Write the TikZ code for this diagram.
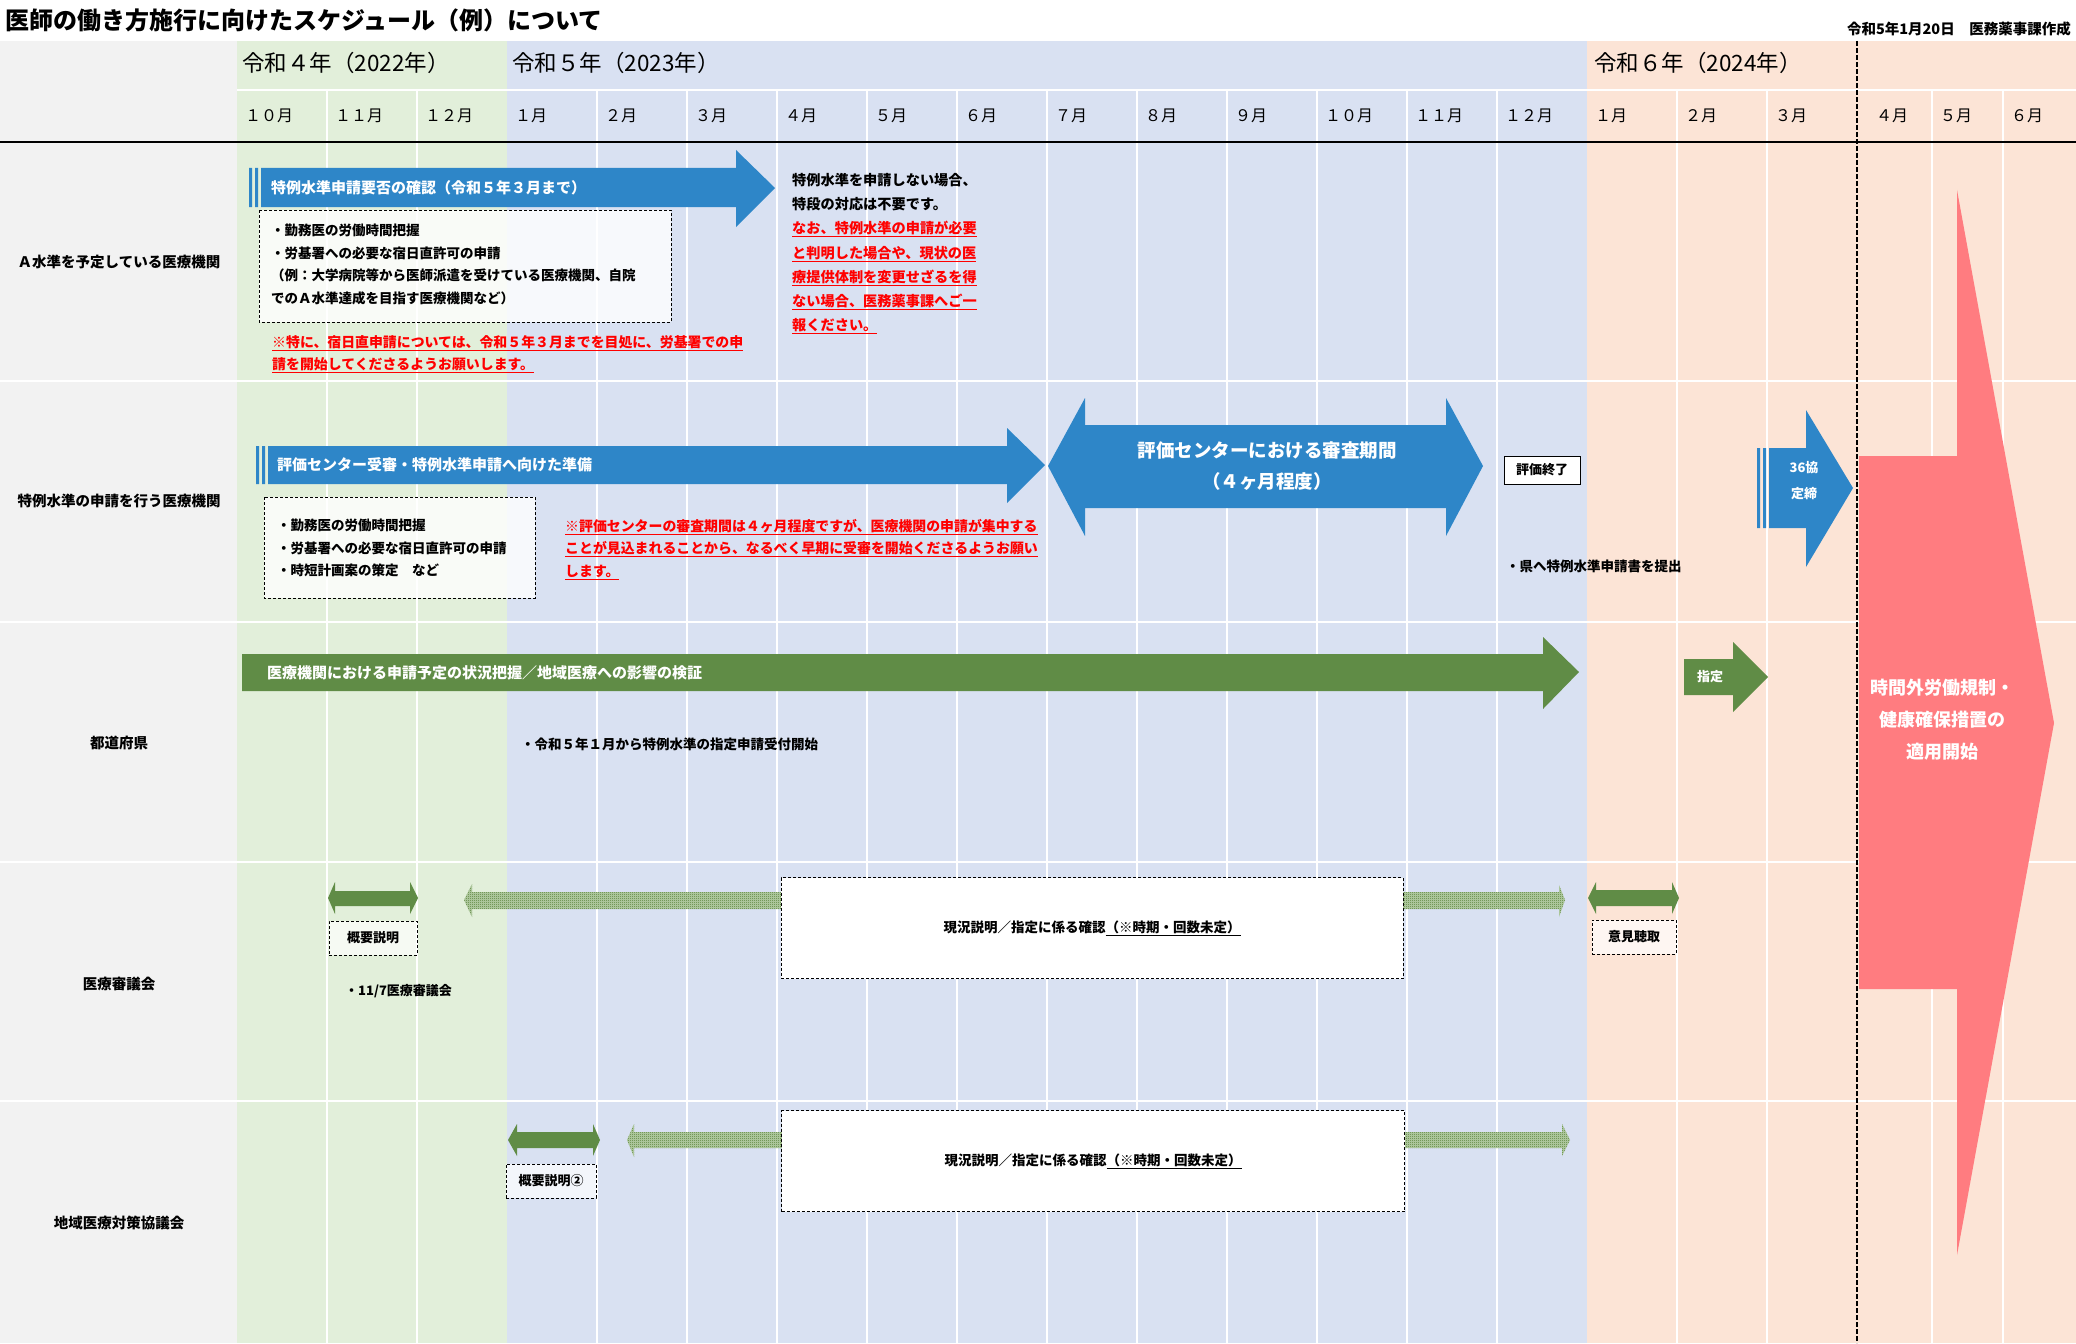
\documentclass[tikz,border=0pt]{standalone}
\usepackage{fontspec}
\setmainfont{Noto Sans CJK JP}
\usepackage{tikz}
\usetikzlibrary{patterns}
\definecolor{greycol}{HTML}{F2F2F2}
\definecolor{green22}{HTML}{E2EFDA}
\definecolor{blue23}{HTML}{D9E1F2}
\definecolor{orange24}{HTML}{FCE4D6}
\definecolor{arrowblue}{HTML}{2E86C8}
\definecolor{arrowgreen}{HTML}{608C46}
\definecolor{arrowred}{HTML}{FF7C80}
\definecolor{notered}{HTML}{FF0000}
\definecolor{hatchgreen}{HTML}{4E7A2E}
\definecolor{hatchbase}{HTML}{B9D0AA}
\pgfdeclarepatternformonly{checker}{\pgfqpoint{0pt}{0pt}}{\pgfqpoint{2pt}{2pt}}{\pgfqpoint{2pt}{2pt}}%
  {\pgfpathrectangle{\pgfqpoint{0pt}{0pt}}{\pgfqpoint{1pt}{1pt}}%
   \pgfpathrectangle{\pgfqpoint{1pt}{1pt}}{\pgfqpoint{1pt}{1pt}}\pgfusepath{fill}}

\tikzset{
  gridline/.style={white,line width=1.2pt},
  rowlabel/.style={inner sep=0pt,font=\bfseries\fontsize{14.5}{16}\selectfont},
  monthlabel/.style={anchor=west,inner sep=0pt,font=\fontsize{16}{18}\selectfont},
  yearlabel/.style={anchor=west,inner sep=0pt,font=\fontsize{22.5}{25}\selectfont},
  arrowtext/.style={anchor=west,inner sep=0pt,text=white,font=\bfseries\fontsize{15}{18}\selectfont},
  note/.style={anchor=north west,inner sep=0pt,align=left,font=\bfseries\fontsize{13.5}{22.5}\selectfont},
  rednote/.style={note,text=notered,font=\bfseries\fontsize{13.9}{22.5}\selectfont},
  dashbox/.style={draw=black,dash pattern=on 3pt off 2pt,line width=1pt},
  tagbox/.style={dashbox,fill=white,fill opacity=.7,text opacity=1,inner sep=0pt,
    font=\bfseries\fontsize{13}{15}\selectfont,minimum width=88pt,minimum height=34pt},
  bigbox/.style={dashbox,fill=white,inner sep=0pt,font=\bfseries\fontsize{13.5}{15}\selectfont},
  hatcharrow/.style={fill=hatchbase,postaction={pattern=checker,pattern color=hatchgreen}},
}

\begin{document}
\begin{tikzpicture}[x=1pt,y=-1pt]
  \useasboundingbox (0,0) rectangle (2076,1343);
  \fill[white] (0,0) rectangle (2076,1343);
  \fill[greycol] (0,41) rectangle (237,1343);
  \fill[green22] (237,41) rectangle (507,1343);
  \fill[blue23] (507,41) rectangle (1587,1343);
  \fill[orange24] (1587,41) rectangle (2076,1343);

  \foreach \i in {1,2,4,5,...,14,16,17}
    \draw[gridline] (237+90*\i,90) -- (237+90*\i,1343);
  \foreach \x in {1932,2003}
    \draw[gridline] (\x,90) -- (\x,1343);
  \draw[gridline] (237,90) -- (2076,90);
  \foreach \y in {381,622,862,1101}
    \draw[white,line width=2pt] (0,\y) -- (2076,\y);
  \draw[line width=1.5pt] (0,142) -- (2076,142);
  \draw[dash pattern=on 5pt off 2pt,line width=1.5pt] (1857,41) -- (1857,1343);

  \node[anchor=west,inner sep=0pt,font=\bfseries\fontsize{24}{27}\selectfont] (title) at (5,20)
    {医師の働き方施行に向けたスケジュール（例）について};
  \node[anchor=east,inner sep=0pt,font=\bfseries\fontsize{14.5}{16}\selectfont] (made) at (2071,29)
    {令和5年1月20日　医務薬事課作成};

  \node[yearlabel] (y2022) at (242,63) {令和４年（2022年）};
  \node[yearlabel] (y2023) at (512,63) {令和５年（2023年）};
  \node[yearlabel] (y2024) at (1594,63) {令和６年（2024年）};

  \foreach \m [count=\i from 0] in {１０月,１１月,１２月,１月,２月,３月,４月,５月,６月,７月,８月,９月,１０月,１１月,１２月,１月,２月,３月}
    \node[monthlabel] (m\i) at (245+90*\i,116) {\m};
  \node[monthlabel] (m18) at (1876,116) {４月};
  \node[monthlabel] (m19) at (1940,116) {５月};
  \node[monthlabel] (m20) at (2011,116) {６月};

  \node[rowlabel] (rowA) at (119,262) {Ａ水準を予定している医療機関};
  \node[rowlabel] (rowB) at (119,501) {特例水準の申請を行う医療機関};
  \node[rowlabel] (rowC) at (119,743) {都道府県};
  \node[rowlabel] (rowD) at (119,984) {医療審議会};
  \node[rowlabel] (rowE) at (119,1223) {地域医療対策協議会};

  % A水準
  \fill[arrowblue] (249,168) rectangle (252,207) (255,168) rectangle (258,207);
  \fill[arrowblue] (261,168) -- (736,168) -- (736,150) -- (775,188) -- (736,227) -- (736,207) -- (261,207) -- cycle;
  \node[arrowtext] (arrA) at (271,188) {特例水準申請要否の確認（令和５年３月まで）};
  \draw[dashbox,fill=white,fill opacity=.8] (259,210) rectangle (671,322);
  \node[note] (boxA) at (271,224) {・勤務医の労働時間把握\\・労基署への必要な宿日直許可の申請\\（例：大学病院等から医師派遣を受けている医療機関、自院\\でのＡ水準達成を目指す医療機関など）};
  \node[rednote] (noteA) at (272,335) {\underline{※特に、宿日直申請については、令和５年３月までを目処に、労基署での申}\\\underline{請を開始してくださるようお願いします。}};
  \node[note,font=\bfseries\fontsize{14.2}{24.2}\selectfont] (sideA) at (792,173) {特例水準を申請しない場合、\\特段の対応は不要です。\\
    \textcolor{notered}{\underline{なお、特例水準の申請が必要}}\\\textcolor{notered}{\underline{と判明した場合や、現状の医}}\\
    \textcolor{notered}{\underline{療提供体制を変更せざるを得}}\\\textcolor{notered}{\underline{ない場合、医務薬事課へご一}}\\
    \textcolor{notered}{\underline{報ください。}}};

  % 特例水準
  \fill[arrowblue] (256,446) rectangle (259,484) (262,446) rectangle (265,484);
  \fill[arrowblue] (268,446) -- (1007,446) -- (1007,428) -- (1045,465) -- (1007,503) -- (1007,484) -- (268,484) -- cycle;
  \node[arrowtext] (arrB) at (277,465) {評価センター受審・特例水準申請へ向けた準備};
  \draw[dashbox,fill=white,fill opacity=.8] (264,497) rectangle (535,598);
  \node[note] (boxB) at (277,519) {・勤務医の労働時間把握\\・労基署への必要な宿日直許可の申請\\・時短計画案の策定　など};
  \node[rednote] (noteB) at (565,519) {\underline{※評価センターの審査期間は４ヶ月程度ですが、医療機関の申請が集中する}\\\underline{ことが見込まれることから、なるべく早期に受審を開始くださるようお願い}\\\underline{します。}};
  \fill[arrowblue] (1048,466) -- (1085,398) -- (1085,425) -- (1446,425) -- (1446,398) -- (1483,466)
    -- (1446,536) -- (1446,508) -- (1085,508) -- (1085,536) -- cycle;
  \node[align=center,text=white,font=\bfseries\fontsize{18.5}{31}\selectfont] (review) at (1267,466)
    {評価センターにおける審査期間\\（４ヶ月程度）};
  \node[draw=black,line width=1pt,fill=white,minimum width=76pt,minimum height=28pt,inner sep=0pt,
    font=\bfseries\fontsize{13}{15}\selectfont] (done) at (1542,470) {評価終了};
  \node[anchor=west,inner sep=0pt,font=\bfseries\fontsize{13.5}{15}\selectfont] (submit) at (1506,566) {・県へ特例水準申請書を提出};
  \fill[arrowblue] (1757,448) rectangle (1760,528) (1763,448) rectangle (1766,528);
  \fill[arrowblue] (1769,448) -- (1806,448) -- (1806,410) -- (1853,488) -- (1806,567) -- (1806,528) -- (1769,528) -- cycle;
  \node[align=center,text=white,font=\bfseries\fontsize{13}{26}\selectfont] (kyotei) at (1804,481) {36協\\定締};

  % 都道府県
  \fill[arrowgreen] (242,654) -- (1543,654) -- (1543,637) -- (1579,672) -- (1543,709) -- (1543,691) -- (242,691) -- cycle;
  \node[arrowtext] (arrC) at (267,673) {医療機関における申請予定の状況把握／地域医療への影響の検証};
  \node[anchor=west,inner sep=0pt,font=\bfseries\fontsize{13.5}{15}\selectfont] (accept) at (521,744) {・令和５年１月から特例水準の指定申請受付開始};
  \fill[arrowgreen] (1684,659) -- (1733,659) -- (1733,642) -- (1768,677) -- (1733,712) -- (1733,695) -- (1684,695) -- cycle;
  \node[text=white,font=\bfseries\fontsize{13}{15}\selectfont] (shitei) at (1710,677) {指定};

  \fill[arrowred] (1859,456) -- (1957,456) -- (1957,190) -- (2054,723) -- (1957,1255) -- (1957,989) -- (1859,989) -- cycle;
  \node[align=center,text=white,font=\bfseries\fontsize{18}{32}\selectfont] (start) at (1942,720)
    {時間外労働規制・\\健康確保措置の\\適用開始};

  % 医療審議会
  \fill[arrowgreen] (328,898) -- (335,882) -- (335,891) -- (410,891) -- (410,882) -- (418,898)
    -- (410,914) -- (410,906) -- (335,906) -- (335,914) -- cycle;
  \node[tagbox] (gaiyoD) at (373,938) {概要説明};
  \node[anchor=west,inner sep=0pt,font=\bfseries\fontsize{13}{15}\selectfont] (meeting) at (345,991) {・11/7医療審議会};
  \fill[hatcharrow] (464,900) -- (472,884) -- (472,892) -- (781,892) -- (781,909) -- (472,909) -- (472,917) -- cycle;
  \fill[hatcharrow] (1403,892) -- (1559,892) -- (1559,885) -- (1565,900) -- (1559,917) -- (1559,909) -- (1403,909) -- cycle;
  \node[bigbox,minimum width=622pt,minimum height=101pt] (kakuninD) at (1092,928)
    {現況説明／指定に係る確認\underline{（※時期・回数未定）}};
  \fill[arrowgreen] (1588,898) -- (1596,882) -- (1596,890) -- (1672,890) -- (1672,882) -- (1679,898)
    -- (1672,914) -- (1672,906) -- (1596,906) -- (1596,914) -- cycle;
  \node[tagbox,minimum width=84pt] (iken) at (1634,937) {意見聴取};

  % 地域医療対策協議会
  \fill[arrowgreen] (508,1140) -- (517,1124) -- (517,1132) -- (593,1132) -- (593,1124) -- (600,1140)
    -- (593,1156) -- (593,1148) -- (517,1148) -- (517,1156) -- cycle;
  \node[tagbox,minimum width=90pt] (gaiyoE) at (551,1181) {概要説明②};
  \fill[hatcharrow] (627,1140) -- (634,1124) -- (634,1132) -- (782,1132) -- (782,1148) -- (634,1148) -- (634,1157) -- cycle;
  \fill[hatcharrow] (1405,1132) -- (1562,1132) -- (1562,1124) -- (1570,1140) -- (1562,1156) -- (1562,1148) -- (1405,1148) -- cycle;
  \node[bigbox,minimum width=623pt,minimum height=101pt] (kakuninE) at (1093,1161)
    {現況説明／指定に係る確認\underline{（※時期・回数未定）}};
\end{tikzpicture}
\end{document}
